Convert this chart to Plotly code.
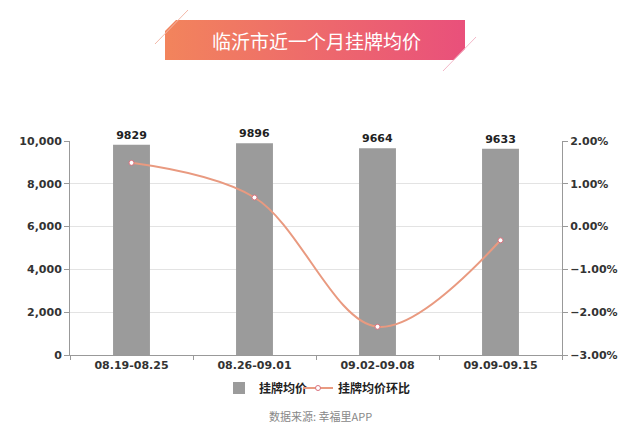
import base64
import plotly.graph_objects as go

# ---- data ----
categories = ["08.19-08.25", "08.26-09.01", "09.02-09.08", "09.09-09.15"]
avg_price = [9829, 9896, 9664, 9633]
mom_pct = [1.49, 0.68, -2.34, -0.32]

title_text = "临沂市近一个月挂牌均价"
source_text = "数据来源: 幸福里APP"
bar_name = "挂牌均价"
line_name = "挂牌均价环比"

# page has an 8px body margin; lay out the figure so that it lands on the page coordinates
OFF = 8
W, H = 640 - OFF, 428 - OFF
PX0, PX1, PY0, PY1 = 70, 562, 141, 355          # plot area in page pixels
ML, MR = PX0 - OFF, W - (PX1 - OFF)
MT, MB = PY0 - OFF, H - (PY1 - OFF)
PW, PH = PX1 - PX0, PY1 - PY0


def px(x):
    return (x - PX0) / PW


def py(y):
    return (PY1 - y) / PH


svg = f'''<svg xmlns="http://www.w3.org/2000/svg" width="{W}" height="{H}" viewBox="0 0 {W} {H}" preserveAspectRatio="none">
<defs><linearGradient id="g" x1="0" y1="0" x2="1" y2="0">
<stop offset="0" stop-color="#f2845c"/><stop offset="1" stop-color="#e9507b"/></linearGradient></defs>
<g transform="translate({-OFF},{-OFF})">
<polygon points="176,20 465,20 465,49 454,60 165,60 165,31" fill="url(#g)"/>
<line x1="188" y1="10" x2="155" y2="44" stroke="#f3b8a8" stroke-width="1"/>
<line x1="476" y1="37" x2="443" y2="71" stroke="#f3b8c8" stroke-width="1"/>
</g>
</svg>'''
svg_uri = "data:image/svg+xml;base64," + base64.b64encode(svg.encode()).decode()

fig = go.Figure()
fig.add_trace(go.Bar(
    x=categories, y=avg_price, name=bar_name, legend="legend",
    marker=dict(color="#9b9b9b", line=dict(width=0)),
    width=0.3,
    text=[str(v) for v in avg_price], textposition="outside",
    textfont=dict(family="DejaVu Sans", size=11, color="#222222", weight="bold"),
    cliponaxis=False,
))
fig.add_trace(go.Scatter(
    x=categories, y=mom_pct, name=line_name, yaxis="y2", legend="legend2",
    mode="lines+markers",
    line=dict(color="#e99a80", width=2, shape="spline", smoothing=1.0),
    marker=dict(size=5, color="white", line=dict(color="#d9707c", width=1)),
))

axis_font = dict(family="DejaVu Sans", size=11, color="#333333", weight="bold")
legend_font = dict(family="Noto Sans CJK SC", size=12, color="#222222", weight="bold")

fig.update_layout(
    width=W, height=H,
    margin=dict(l=ML, r=MR, t=MT, b=MB),
    paper_bgcolor="white", plot_bgcolor="white",
    showlegend=True,
    legend=dict(orientation="h", x=px(219), xanchor="left",
                y=py(388), yanchor="middle", font=legend_font, itemwidth=30,
                bgcolor="rgba(0,0,0,0)"),
    legend2=dict(orientation="h", x=px(298), xanchor="left",
                 y=py(388), yanchor="middle", font=legend_font, itemwidth=30,
                 bgcolor="rgba(0,0,0,0)"),
    xaxis=dict(type="category", showline=True, linecolor="#999999", linewidth=1,
               ticks="outside", tickson="boundaries", ticklen=4, tickcolor="#999999",
               tickfont=axis_font, showgrid=False, zeroline=False),
    yaxis=dict(range=[0, 10000], dtick=2000, tickformat=",", showline=True,
               linecolor="#999999", linewidth=1, ticks="outside", ticklen=5,
               tickcolor="#999999", tickfont=axis_font, gridcolor="#e3e3e3",
               zeroline=False),
    yaxis2=dict(range=[-3, 2], dtick=1, tickformat=".2f", ticksuffix="%",
                overlaying="y", side="right", showline=True, linecolor="#999999",
                linewidth=1, ticks="outside", ticklen=5, tickcolor="#999999",
                tickfont=axis_font, showgrid=False, zeroline=False),
    images=[dict(source=svg_uri, xref="paper", yref="paper",
                 x=-ML / PW, y=(H - MB) / PH, sizex=W / PW, sizey=H / PH,
                 xanchor="left", yanchor="top", sizing="stretch", layer="below")],
    annotations=[
        dict(text=title_text, xref="paper", yref="paper",
             x=px(316), y=py(41), showarrow=False,
             xanchor="center", yanchor="middle",
             font=dict(family="Noto Sans CJK SC", size=19, color="white")),
        dict(text=source_text, xref="paper", yref="paper",
             x=px(320), y=py(416), showarrow=False,
             xanchor="center", yanchor="middle",
             font=dict(family="Noto Sans CJK SC", size=11, color="#888888")),
    ],
)

fig.write_html("out.html")
